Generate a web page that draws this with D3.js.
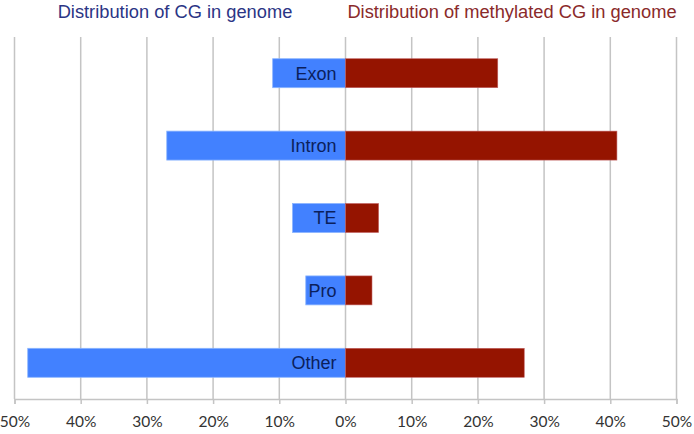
<!DOCTYPE html>
<html><head><meta charset="utf-8">
<script src="https://cdn.jsdelivr.net/npm/d3@7"></script>
<style>body{margin:0;background:#fff}svg{display:block}</style>
</head><body>
<svg id="c" width="694" height="434"></svg>
<script>
const categories = ["Exon","Intron","TE","Pro","Other"];
const cgGenome = [11, 27, 8, 6, 48];          // % (left, blue)
const methylCG = [23, 41, 5, 4, 27];          // % (right, red)
const tickValues = [-50,-40,-30,-20,-10,0,10,20,30,40,50];
const leftTitle = "Distribution of CG in genome";
const rightTitle = "Distribution of methylated CG in genome";

const svg = d3.select("#c");
const x = d3.scaleLinear().domain([-50,50]).range([14.5,676.5]);
const y = d3.scaleBand().domain(categories).range([37,399]).paddingInner(0.6).paddingOuter(0.3);

// grid
svg.append("g").selectAll("line").data(tickValues).join("line")
  .attr("x1",d=>x(d)).attr("x2",d=>x(d)).attr("y1",37).attr("y2",399)
  .attr("stroke","#c4c4c4").attr("stroke-width",1.5);

// axis
const axis = d3.axisBottom(x).tickValues(tickValues).tickSize(5).tickPadding(12)
  .tickFormat(d=>Math.abs(d)+"%");
const ag = svg.append("g").attr("transform","translate(0,399)").call(axis);
ag.select(".domain").attr("stroke","#c4c4c4").attr("stroke-width",1.5);
ag.selectAll(".tick line").attr("stroke","#c4c4c4").attr("stroke-width",1.5);
ag.selectAll(".tick text").attr("font-family","Lato, 'Open Sans', sans-serif")
  .attr("font-size",15.5).attr("fill","#333");

// bars
svg.append("g").selectAll("rect").data(categories).join("rect")
  .attr("x",(d,i)=>x(-cgGenome[i])).attr("y",d=>y(d))
  .attr("width",(d,i)=>x(0)-x(-cgGenome[i])).attr("height",y.bandwidth())
  .attr("fill","#4281ff").attr("stroke","#8ab4ff").attr("stroke-width",0.8);
svg.append("g").selectAll("rect").data(categories).join("rect")
  .attr("x",x(0)).attr("y",d=>y(d))
  .attr("width",(d,i)=>x(methylCG[i])-x(0)).attr("height",y.bandwidth())
  .attr("fill","#951400").attr("stroke","#c06060").attr("stroke-width",0.6);

// labels
svg.append("g").selectAll("text").data(categories).join("text")
  .attr("x",x(0)-9).attr("y",d=>y(d)+y.bandwidth()/2).attr("dy","0.36em")
  .attr("text-anchor","end").attr("font-family","'Liberation Sans', Arial, sans-serif")
  .attr("font-size",18).attr("fill","#0b1f5c").text(d=>d);

// titles
svg.append("text").attr("x",175).attr("y",18).attr("text-anchor","middle")
  .attr("font-family","'Liberation Sans', Arial, sans-serif").attr("font-size",18.3)
  .attr("fill","#2b3585").text(leftTitle);
svg.append("text").attr("x",512).attr("y",18).attr("text-anchor","middle")
  .attr("font-family","'Liberation Sans', Arial, sans-serif").attr("font-size",18.3)
  .attr("fill","#8a2a2a").text(rightTitle);
</script>
</body></html>
